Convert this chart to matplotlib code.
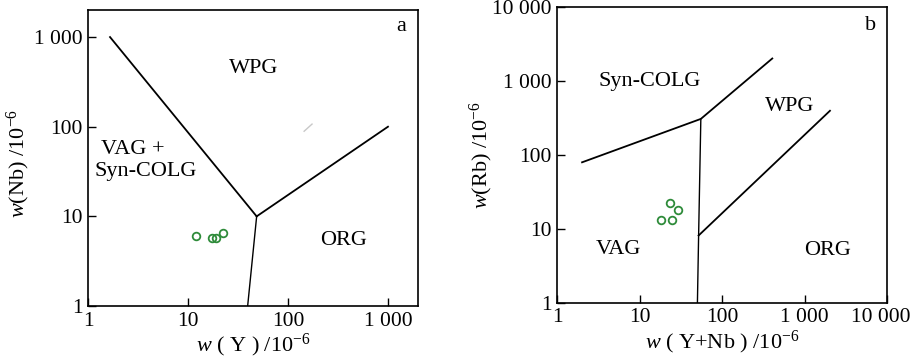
import matplotlib
matplotlib.use('Agg')
import matplotlib.pyplot as plt
import matplotlib.transforms as mtransforms
from matplotlib.ticker import FixedLocator, FixedFormatter, NullLocator

plt.rcParams['font.family'] = ['Liberation Serif', 'DejaVu Serif']
plt.rcParams['mathtext.fontset'] = 'custom'
plt.rcParams['mathtext.rm'] = 'Liberation Serif'
plt.rcParams['mathtext.it'] = 'Liberation Serif:italic'

# panel a: Y vs Nb
y_a = [12.1, 17.5, 19.0, 22.5]
nb_a = [6.1, 5.8, 5.7, 6.6]
# field boundaries (Pearce et al., 1984)
a_line1_x = [1.66, 48.6]
a_line1_y = [1000, 10]
a_line2_x = [48.6, 1000]
a_line2_y = [10, 100]
a_line3_x = [48.6, 39.5]
a_line3_y = [10, 1]
a_ticks = [1, 10, 100, 1000]
a_ticklabels = ['1', '10', '100', '1 000']

# panel b: Y+Nb vs Rb
ynb_b = [23.2, 29.0, 18.2, 24.4]
rb_b = [22.0, 17.7, 13.1, 13.2]
b_line1_x = [2, 55, 404]
b_line1_y = [79, 305, 2000]
b_line2_x = [55, 51.7, 50]
b_line2_y = [305, 8.1, 1]
b_line3_x = [51.7, 2020]
b_line3_y = [8.1, 393]
b_ticks = [1, 10, 100, 1000, 10000]
b_ticklabels = ['1', '10', '100', '1 000', '10 000']

green = '#2e8b3a'
fs = 16

fig = plt.figure(figsize=(9.15, 3.64), dpi=100)
ax1 = fig.add_axes([0.0962, 0.1593, 0.3607, 0.813])
ax2 = fig.add_axes([0.609, 0.1684, 0.3607, 0.813])


def style(ax, ticks, labels, lim):
    ax.set_xscale('log')
    ax.set_yscale('log')
    ax.set_xlim(lim)
    ax.set_ylim(lim)
    for axis in (ax.xaxis, ax.yaxis):
        axis.set_major_locator(FixedLocator(ticks))
        axis.set_major_formatter(FixedFormatter(labels))
        axis.set_minor_locator(NullLocator())
    ax.tick_params(direction='in', length=6, width=1.0, labelsize=15.5, pad=4)
    for s in ax.spines.values():
        s.set_linewidth(1.2)


style(ax1, a_ticks, a_ticklabels, (1, 2000))
ax1.plot(a_line1_x, a_line1_y, color='black', lw=1.3)
ax1.plot(a_line2_x, a_line2_y, color='black', lw=1.3)
ax1.plot(a_line3_x, a_line3_y, color='black', lw=1.0)
ax1.plot([145, 174], [89, 107], color='#c8c8c8', lw=1.0)
ax1.plot(y_a, nb_a, 'o', mfc='none', mec=green, mew=1.3, ms=5.5)
ax1.text(0.503, 0.804, 'WPG', transform=ax1.transAxes, ha='center', va='center', fontsize=fs)
ax1.text(0.135, 0.53, 'VAG +', transform=ax1.transAxes, ha='center', va='center', fontsize=fs)
ax1.text(0.176, 0.453, 'Syn-COLG', transform=ax1.transAxes, ha='center', va='center', fontsize=fs)
ax1.text(0.773, 0.22, 'ORG', transform=ax1.transAxes, ha='center', va='center', fontsize=fs)
ax1.text(0.948, 0.943, 'a', transform=ax1.transAxes, ha='center', va='center', fontsize=fs)
ax1.set_xlabel(r'$w$ ( Y ) /10$^{-6}$', fontsize=fs, labelpad=1)
ax1.set_ylabel(r'$w$(Nb) /10$^{-6}$', fontsize=fs)
ax1.yaxis.set_label_coords(-0.17, 0.48)

style(ax2, b_ticks, b_ticklabels, (1, 10000))
ax2.plot(b_line1_x, b_line1_y, color='black', lw=1.3)
ax2.plot(b_line2_x, b_line2_y, color='black', lw=1.0)
ax2.plot(b_line3_x, b_line3_y, color='black', lw=1.3)
ax2.plot(ynb_b, rb_b, 'o', mfc='none', mec=green, mew=1.3, ms=5.5)
ax2.text(0.281, 0.749, 'Syn-COLG', transform=ax2.transAxes, ha='center', va='center', fontsize=fs)
ax2.text(0.703, 0.662, 'WPG', transform=ax2.transAxes, ha='center', va='center', fontsize=fs)
ax2.text(0.185, 0.18, 'VAG', transform=ax2.transAxes, ha='center', va='center', fontsize=fs)
ax2.text(0.819, 0.176, 'ORG', transform=ax2.transAxes, ha='center', va='center', fontsize=fs)
ax2.text(0.948, 0.938, 'b', transform=ax2.transAxes, ha='center', va='center', fontsize=fs)
ax2.set_xlabel(r'$w$ ( Y+Nb ) /10$^{-6}$', fontsize=fs, labelpad=1)
ax2.set_ylabel(r'$w$(Rb) /10$^{-6}$', fontsize=fs)
ax2.yaxis.set_label_coords(-0.19, 0.5)

# last x tick label sits a little left of its tick, as in the original
last = ax2.get_xticklabels()[-1]
last.set_transform(last.get_transform() + mtransforms.ScaledTranslation(-7 / 100, 0, fig.dpi_scale_trans))

fig.savefig('out.png', dpi=100)
